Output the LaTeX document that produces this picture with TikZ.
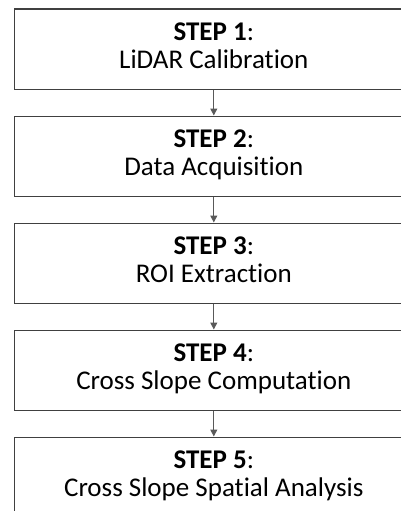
\documentclass[tikz,border=0pt]{standalone}
\usepackage{fontspec}
\setmainfont{Carlito}[Ligatures=NoCommon]
\usetikzlibrary{arrows.meta}
\definecolor{boxline}{HTML}{404040}
\definecolor{arrline}{HTML}{595959}
\begin{document}
\begin{tikzpicture}[x=1pt,y=-1pt,
  stepbox/.style={draw=boxline, line width=1.1pt, minimum width=399.5pt, minimum height=80pt,
    inner sep=0pt, anchor=north west},
  steptxt/.style={inner sep=0pt, anchor=base, font=\fontsize{27}{28}\selectfont},
  flow/.style={draw=arrline, line width=1pt, -{Triangle[length=7pt,width=7pt]}}]
\useasboundingbox (0,0) rectangle (401,511);
\node[stepbox] (s1) at (13.5,8.5) {};
\node[stepbox] (s2) at (13.5,115.5) {};
\node[stepbox] (s3) at (13.5,222.5) {};
\node[stepbox] (s4) at (13.5,329.5) {};
\node[stepbox] (s5) at (13.5,436.5) {};
\foreach \i/\t in {1/LiDAR Calibration,2/Data Acquisition,3/ROI Extraction,4/Cross Slope Computation,5/Cross Slope Spatial Analysis}{
  \node[steptxt] (h\i) at ([yshift=-32pt]s\i.north) {\textbf{STEP \i}:};
  \node[steptxt] (t\i) at ([yshift=-60pt]s\i.north) {\t};
}
\draw[flow] (s1.south) -- (s2.north);
\draw[flow] (s2.south) -- (s3.north);
\draw[flow] (s3.south) -- (s4.north);
\draw[flow] (s4.south) -- (s5.north);
\end{tikzpicture}
\end{document}
